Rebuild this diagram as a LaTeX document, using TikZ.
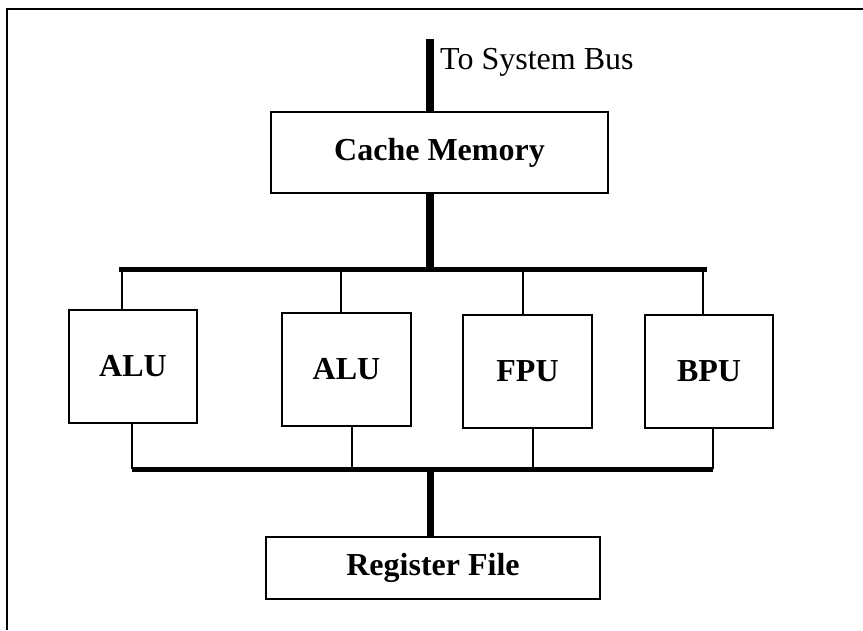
\documentclass[tikz,border=0pt]{standalone}
\usepackage{fontspec}
\setmainfont{Liberation Serif}
\begin{document}
\begin{tikzpicture}[x=1pt,y=-1pt,
  unitbox/.style={draw,line width=2pt,inner sep=0pt,font=\fontsize{32}{36}\selectfont\bfseries},
  thin/.style={line width=1.5pt},
  bus/.style={line width=5pt},
  vbus/.style={line width=7pt}]
\useasboundingbox (0,0) rectangle (863,630);
% frame
\draw[line width=2.2pt] (7,630) -- (7,9) -- (863,9);
% nodes
\node[unitbox,minimum width=337pt,minimum height=81pt] (cache) at (439.5,152.5) {Cache Memory};
\node[unitbox,minimum width=128pt,minimum height=113pt] (alu1) at (133,366.5) {ALU};
\node[unitbox,minimum width=129pt,minimum height=113pt] (alu2) at (346.5,369.5) {ALU};
\node[unitbox,minimum width=129pt,minimum height=113pt] (fpu) at (527.5,371.5) {FPU};
\node[unitbox,minimum width=128pt,minimum height=113pt] (bpu) at (709,371.5) {BPU};
\node[unitbox,minimum width=334pt,minimum height=62pt] (reg) at (433,568) {Register File};
% system bus
\coordinate (sys) at (430,39);
\draw[line width=8pt] (sys) -- (sys |- cache.north);
\node[anchor=west,inner sep=0pt,font=\fontsize{32}{36}\selectfont] (lbl) at (440,62) {To System Bus};
% upper bus
\coordinate (ub) at (430,269);
\coordinate (ubL) at (121,269);
\coordinate (ubR) at (704,269);
\draw[line width=8pt] (cache.south -| ub) -- (ub);
\draw[bus,line cap=rect] (ubL) -- (ubR);
\coordinate (d1) at (122,269);
\coordinate (d2) at (341,269);
\coordinate (d3) at (523,269);
\coordinate (d4) at (703,269);
\draw[thin] (d1) -- (d1 |- alu1.north);
\draw[thin] (d2) -- (d2 |- alu2.north);
\draw[thin] (d3) -- (d3 |- fpu.north);
\draw[thin] (d4) -- (d4 |- bpu.north);
% lower bus
\coordinate (lb) at (430,469);
\coordinate (lbL) at (132,469);
\coordinate (lbR) at (713,469);
\draw[bus] (lbL) -- (lbR);
\coordinate (e1) at (132,469);
\coordinate (e2) at (352,469);
\coordinate (e3) at (533,469);
\coordinate (e4) at (713,469);
\draw[thin] (e1 |- alu1.south) -- (e1);
\draw[thin] (e2 |- alu2.south) -- (e2);
\draw[thin] (e3 |- fpu.south) -- (e3);
\draw[thin] (e4 |- bpu.south) -- (e4);
\draw[vbus] (lb) -- (lb |- reg.north);
\end{tikzpicture}
\end{document}
